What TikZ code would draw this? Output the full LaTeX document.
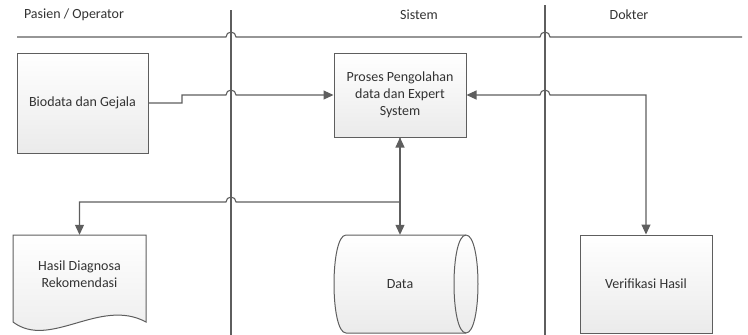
\documentclass[tikz,border=0pt]{standalone}
\usepackage{fontspec}
\setmainfont{Carlito}
\usetikzlibrary{arrows.meta}
\definecolor{linec}{HTML}{5E5E5E}
\definecolor{textc}{HTML}{333333}
\tikzset{
  lbl/.style={font=\fontsize{14}{17}\selectfont, text=textc},
  boxnode/.style={draw=linec, line width=1pt, top color=white, bottom color=gray!16, align=center, inner sep=0pt, font=\fontsize{14}{17}\selectfont, text=textc},
  ghost/.style={inner sep=0pt, align=center, font=\fontsize{14}{17}\selectfont, text=textc},
  shapefill/.style={draw=linec, line width=1pt, top color=white, bottom color=gray!16},
  lane/.style={draw=linec, line width=1.1pt},
  conn/.style={draw=linec, line width=1.1pt},
  tip/.style={-{Triangle[length=10pt,width=9pt]}},
  tips/.style={{Triangle[length=10pt,width=9pt]}-{Triangle[length=10pt,width=9pt]}}
}
\begin{document}
\begin{tikzpicture}[x=1pt,y=-1pt]
\useasboundingbox (0,0) rectangle (748,335);
% lane labels
\node[lbl] (lpas) at (74,15) {Pasien / Operator};
\node[lbl] (lsis) at (419,15) {Sistem};
\node[lbl] (ldok) at (629,15) {Dokter};
% lane lines
\coordinate (h0) at (17,37);
\coordinate (h1) at (742,37);
\coordinate (v1t) at (231,10);
\coordinate (v1b) at (231,335);
\coordinate (v2t) at (545,5);
\coordinate (v2b) at (545,335);
\draw[lane] (v1t) -- (v1b);
\draw[lane] (v2t) -- (v2b);
\draw[lane] (h0) -- (226,37) arc[start angle=180,end angle=0,radius=5pt] -- (540,37) arc[start angle=180,end angle=0,radius=5pt] -- (h1);
% boxes
\node[boxnode, minimum width=131pt, minimum height=100pt] (bio) at (82.5,103) {Biodata dan Gejala};
\node[boxnode, minimum width=132pt, minimum height=84pt] (proses) at (400,95) {Proses Pengolahan\\data dan Expert\\System};
\node[boxnode, minimum width=132pt, minimum height=98pt] (verif) at (646,284) {Verifikasi Hasil};
% document shape
\draw[shapefill] (13,235) -- (146,235) -- (146,322) .. controls (100,297) and (50,350) .. (13,322) -- cycle;
\node[ghost, minimum width=133pt, minimum height=78pt] (hasil) at (79.5,274) {Hasil Diagnosa\\Rekomendasi};
% data storage shape
\draw[shapefill] (346,235) -- (466,235) .. controls (482,235) and (482,333) .. (466,333) -- (346,333) .. controls (330,333) and (330,235) .. (346,235) -- cycle;
\draw[draw=linec, line width=1pt] (466,235) .. controls (450,235) and (450,333) .. (466,333);
\node[ghost, minimum width=108pt, minimum height=98pt] (data) at (400,284) {Data};
% connectors
\draw[conn, tip] (bio.east) -- (182,103) -- (182,95) -- (226,95) arc[start angle=180,end angle=0,radius=5pt] -- (proses.west);
\draw[conn, tips] (proses.east) -- (540,95) arc[start angle=180,end angle=0,radius=5pt] -- (646,95) -- (verif.north);
\draw[conn, tip] (proses.south) -- (400,202) -- (236,202) arc[start angle=0,end angle=180,radius=5pt] -- (hasil.north |- 0,202) -- (hasil.north);
\draw[conn, tips] (proses.south) -- (data.north);
\end{tikzpicture}
\end{document}
